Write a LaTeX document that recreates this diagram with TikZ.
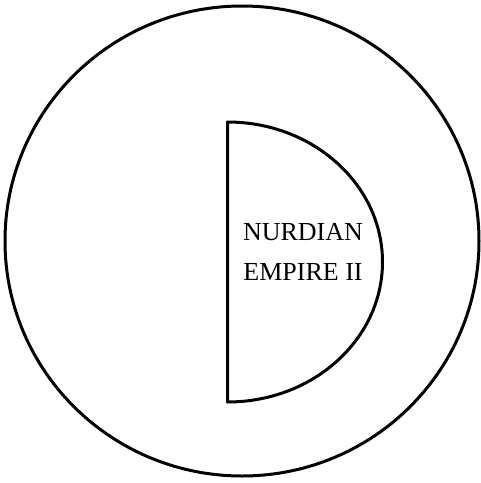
\documentclass[tikz,border=0pt]{standalone}
\usepackage{fontspec}
\setmainfont{Liberation Serif}
\begin{document}
\begin{tikzpicture}[x=1pt,y=-1pt,
  outline/.style={draw=black,line width=3pt},
  lbl/.style={font=\fontsize{26}{40}\selectfont,align=center,inner sep=0pt}]
\useasboundingbox (0,0) rectangle (481,483);
\draw[outline] (242,241) ellipse [x radius=237, y radius=235];
\draw[outline,line join=round] (227.5,122) -- (227.5,402) arc[start angle=-90,end angle=90,x radius=155,y radius=-140] -- cycle;
\node[lbl,anchor=base] (t1) at (303,240) {NURDIAN};
\node[lbl,anchor=base] (t2) at (303,280) {EMPIRE II};
\end{tikzpicture}
\end{document}
